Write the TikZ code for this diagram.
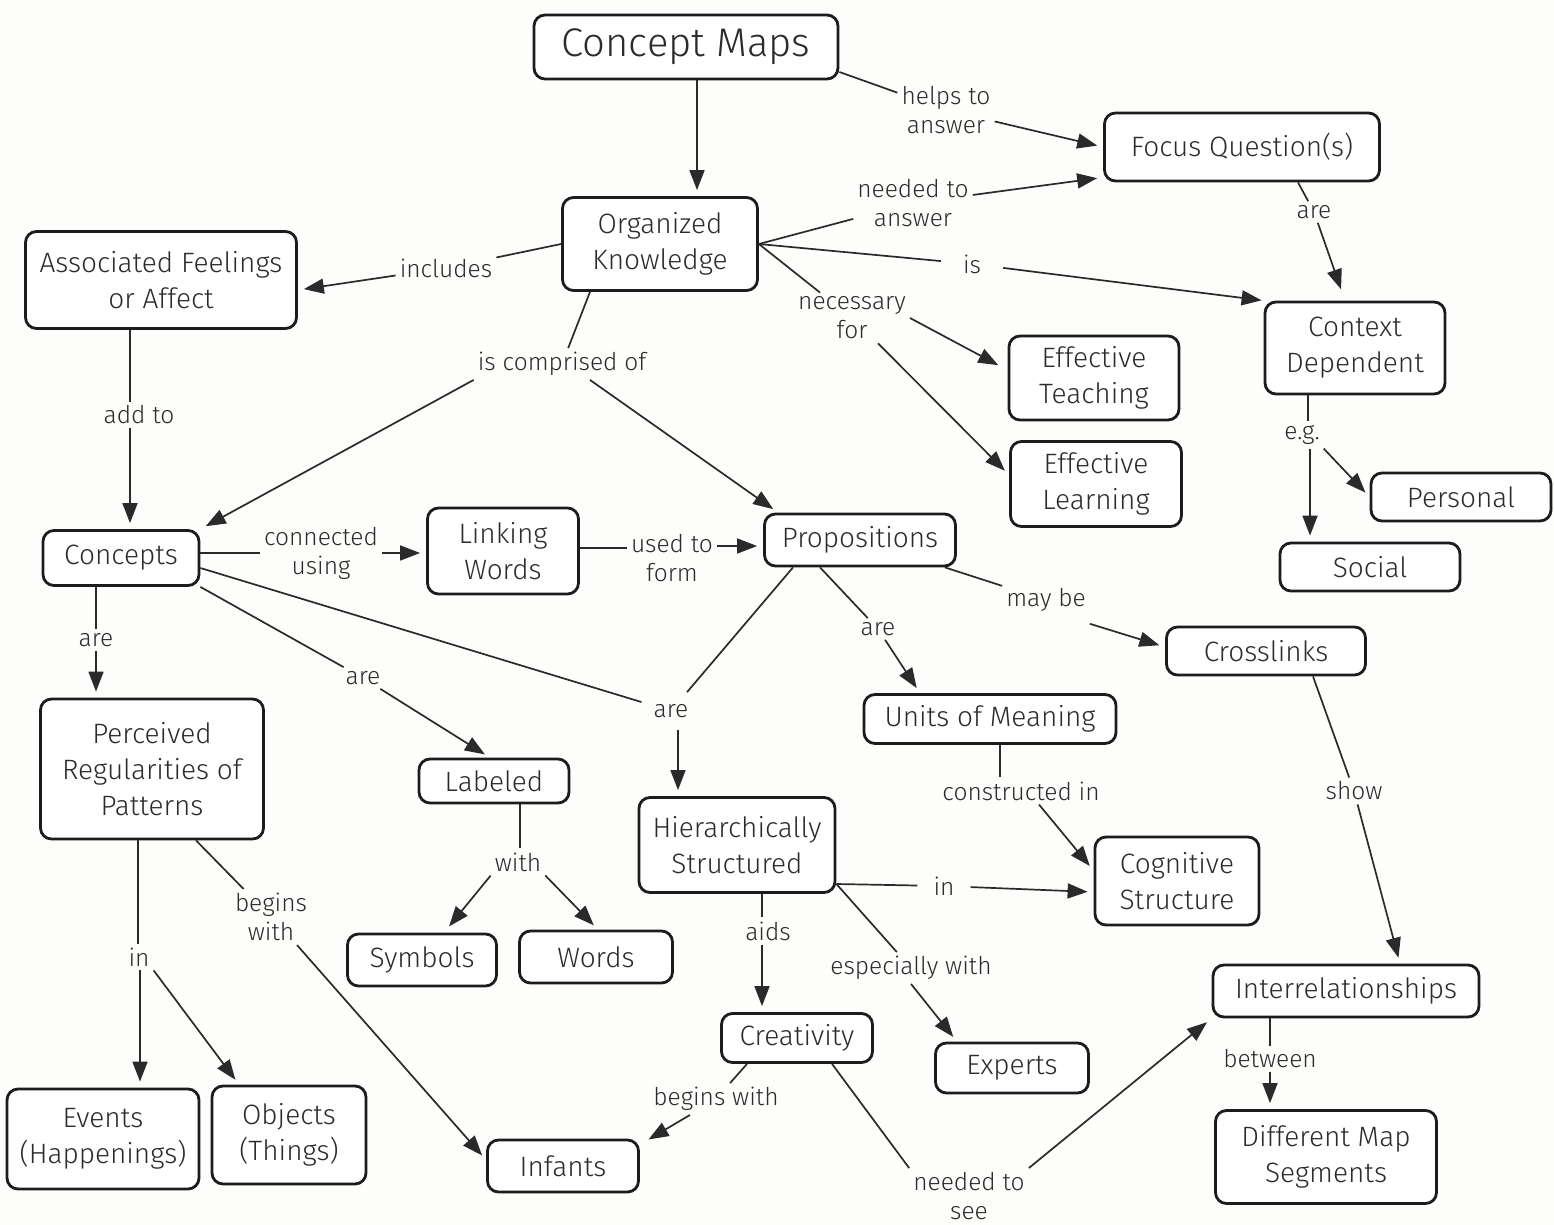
\documentclass[tikz,border=0pt]{standalone}
\usepackage{fontspec}
\setmainfont{Fira Sans Light}
\usetikzlibrary{arrows.meta}
\definecolor{boxline}{HTML}{1C1C1C}
\definecolor{wire}{HTML}{2A2A2A}
\definecolor{ink}{HTML}{2B2B2B}
\definecolor{paper}{HTML}{FDFDFB}
\begin{document}
\begin{tikzpicture}[x=1pt,y=-1pt,
  concept/.style={draw=boxline, line width=2.8pt, rounded corners=11pt, fill=white,
    align=center, inner sep=0pt, text=ink, font=\fontsize{28}{36}\selectfont},
  link/.style={align=center, inner sep=4pt, text=ink, font=\fontsize{24.5}{29}\selectfont},
  conn/.style={draw=wire, line width=1.7pt},
  arr/.style={conn, -{Triangle[length=20pt,width=15pt]}, shorten >=6pt},
]
\fill[paper] (0,0) rectangle (1554,1225);
\useasboundingbox (0,0) rectangle (1554,1225);

% ---------- concepts ----------
\node[concept, minimum width=304, minimum height=64, font=\fontsize{40}{48}\selectfont] (cm) at (686,47) {Concept Maps};
\node[concept, minimum width=275, minimum height=68] (fq) at (1242,147) {Focus Question(s)};
\node[concept, minimum width=195, minimum height=93] (ok) at (660,244) {Organized\\Knowledge};
\node[concept, minimum width=271, minimum height=97] (af) at (161,280) {Associated Feelings\\or Affect};
\node[concept, minimum width=180, minimum height=92] (ctx) at (1355,348) {Context\\Dependent};
\node[concept, minimum width=170, minimum height=84] (et) at (1094,378) {Effective\\Teaching};
\node[concept, minimum width=171, minimum height=85] (el) at (1096,484) {Effective\\Learning};
\node[concept, minimum width=180, minimum height=48] (pers) at (1461,497) {Personal};
\node[concept, minimum width=180, minimum height=48] (soc) at (1370,567) {Social};
\node[concept, minimum width=156, minimum height=55] (con) at (121,558) {Concepts};
\node[concept, minimum width=151, minimum height=86] (lw) at (503,551) {Linking\\Words};
\node[concept, minimum width=191, minimum height=52] (prop) at (860,540) {Propositions};
\node[concept, minimum width=199, minimum height=48] (cross) at (1266,651) {Crosslinks};
\node[concept, minimum width=223, minimum height=140] (perc) at (152,769) {Perceived\\Regularities of\\Patterns};
\node[concept, minimum width=150, minimum height=44] (lab) at (494,781) {Labeled};
\node[concept, minimum width=252, minimum height=49] (um) at (990,719) {Units of Meaning};
\node[concept, minimum width=196, minimum height=95] (hier) at (737,845) {Hierarchically\\Structured};
\node[concept, minimum width=164, minimum height=88] (cog) at (1177,881) {Cognitive\\Structure};
\node[concept, minimum width=149, minimum height=52] (sym) at (422,960) {Symbols};
\node[concept, minimum width=153, minimum height=52] (wor) at (596,957) {Words};
\node[concept, minimum width=266, minimum height=52] (inter) at (1346,991) {Interrelationships};
\node[concept, minimum width=151, minimum height=49] (cre) at (797,1038) {Creativity};
\node[concept, minimum width=153, minimum height=50] (exp) at (1012,1068) {Experts};
\node[concept, minimum width=192, minimum height=100] (ev) at (103,1139) {Events\\(Happenings)};
\node[concept, minimum width=154, minimum height=98] (obj) at (289,1135) {Objects\\(Things)};
\node[concept, minimum width=151, minimum height=52] (inf) at (563,1166) {Infants};
\node[concept, minimum width=221, minimum height=93] (dms) at (1326,1157) {Different Map\\Segments};

% ---------- linking phrases ----------
\node[link] (lhelp) at (946,110) {helps to\\answer};
\node[link] (lneed) at (913,203) {needed to\\answer};
\node[link, inner xsep=22pt] (lis) at (972,264) {is};
\node[link] (lnec) at (852,318) {necessary\\for};
\node[link] (linc) at (446,268) {includes};
\node[link] (lcomp) at (562,364) {is comprised of};
\node[link] (ladd) at (139,415) {add to};
\node[link] (lconn) at (321,553) {connected\\using};
\node[link] (lused) at (672,558) {used to\\form};
\node[link] (lareA) at (96,640) {are};
\node[link] (lareB) at (363,678) {are};
\node[link, inner sep=12pt] (lareC) at (671,711) {are};
\node[link] (lareD) at (878,629) {are};
\node[link] (lmay) at (1046,600) {may be};
\node[link] (lareE) at (1314,212) {are};
\node[link] (leg) at (1302,435) {e.g.};
\node[link] (lcons) at (1021,791) {constructed in};
\node[link] (lshow) at (1354,791) {show};
\node[link] (lwith) at (518,862) {with};
\node[link] (linA) at (139,957) {in};
\node[link] (lbegA) at (271,917) {begins\\with};
\node[link, inner xsep=16pt] (linB) at (944,886) {in};
\node[link] (laids) at (768,931) {aids};
\node[link] (lesp) at (911,968) {especially with};
\node[link] (lbegB) at (716,1099) {begins with};
\node[link] (lsee) at (969,1196) {needed to\\see};
\node[link] (lbtw) at (1270,1059) {between};

% columns for the vertical connectors
\coordinate (x697) at (697,0);
\coordinate (x130) at (130,0);
\coordinate (x96) at (96,0);
\coordinate (x678) at (678,0);
\coordinate (x1308) at (1308,0);
\coordinate (x1310) at (1310,0);
\coordinate (x520) at (520,0);
\coordinate (x138) at (138,0);
\coordinate (x140) at (140,0);
\coordinate (x762) at (762,0);
\coordinate (x1270) at (1270,0);
\coordinate (x1000) at (1000,0);

% ---------- connectors ----------
\draw[arr] (cm.south -| x697) -- (ok.north -| x697);

\draw[conn] ([yshift=-25pt]cm.east) -- (lhelp);
\draw[arr] (lhelp) -- (fq.west);

\draw[conn] (ok.east) -- (lneed);
\draw[arr] (lneed) -- ([yshift=5pt]fq.south west);

\draw[conn] (ok.east) -- (lis);
\draw[arr, shorten >=2pt] (lis) -- (ctx.north west);

\draw[conn] (ok.east) -- (lnec);
\draw[arr] (lnec.east) -- ([xshift=-4pt,yshift=10pt]et.west);
\draw[arr] ([xshift=26pt]lnec.south) -- ([yshift=9pt]el.west);

\draw[conn] (ok.west) -- (linc);
\draw[arr] (linc) -- ([yshift=-10pt]af.east);

\draw[conn] ([xshift=-70pt]ok.south) -- (lcomp);
\draw[arr] (lcomp.south west) -- (con.north east);
\draw[arr] ([xshift=28pt]lcomp.south) -- ([xshift=15pt]prop.north west);

\draw[conn] (af.south -| x130) -- (ladd.north -| x130);
\draw[arr] (ladd.south -| x130) -- (con.north -| x130);

\draw[conn] (con.east |- lconn) -- (lconn);
\draw[arr] (lconn) -- (lw.west |- lconn);

\draw[conn] ([yshift=3pt]lw.east) -- ([yshift=10pt]lused.west);
\draw[arr] ([yshift=12pt]lused.east) -- ([yshift=-6pt]prop.west);

\draw[conn] (con.south -| x96) -- (lareA.north -| x96);
\draw[arr] (lareA.south -| x96) -- (perc.north -| x96);

\draw[conn] (con.south east) -- (lareB);
\draw[arr] (lareB) -- ([xshift=-4pt]lab.north);

\draw[conn] ([yshift=-10pt]con.east) -- (lareC);
\draw[conn] ([xshift=-67pt]prop.south) -- (lareC);
\draw[arr] (lareC.south -| x678) -- (hier.north -| x678);

\draw[conn] ([xshift=-40pt]prop.south) -- (lareD);
\draw[arr] (lareD) -- ([xshift=-70pt]um.north);

\draw[conn] ([xshift=-12pt]prop.south east) -- (lmay);
\draw[arr] ([yshift=-8pt]lmay.south east) -- ([yshift=4pt]cross.west);

\draw[conn] ([xshift=56pt]fq.south) -- (lareE);
\draw[arr, shorten >=12pt] (lareE) -- ([xshift=-10pt]ctx.north);

\draw[conn] (ctx.south -| x1308) -- (leg.north -| x1308);
\draw[arr] (leg.south -| x1310) -- (soc.north -| x1310);
\draw[arr] (leg.south east) -- (pers.west);

\draw[conn] (um.south -| x1000) -- (lcons.north -| x1000);
\draw[arr] ([xshift=18pt]lcons.south) -- ([yshift=-35pt]cog.north west);

\draw[conn] ([xshift=47pt]cross.south) -- (lshow);
\draw[arr] (lshow) -- ([xshift=54pt]inter.north);

\draw[conn] (lab.south -| x520) -- (lwith.north -| x520);
\draw[arr, shorten >=8pt] (lwith.south west) -- ([xshift=22pt]sym.north);
\draw[arr] (lwith.south east) -- ([xshift=2pt]wor.north);

\draw[conn] (perc.south -| x138) -- (linA.north -| x138);
\draw[arr] (linA.south -| x140) -- (ev.north -| x140);
\draw[arr] (linA.south east) -- ([xshift=-50pt]obj.north);

\draw[conn] ([xshift=44pt]perc.south) -- (lbegA);
\draw[arr] ([xshift=26pt]lbegA.south) -- ([yshift=6pt]inf.west);

\draw[conn] ([yshift=-39pt]hier.east) -- (linB);
\draw[arr] (linB) -- ([yshift=-11pt]cog.west);

\draw[conn] (hier.south -| x762) -- (laids.north -| x762);
\draw[arr] (laids.south -| x762) -- (cre.north -| x762);

\draw[conn] ([yshift=-39pt]hier.east) -- (lesp);
\draw[arr] (lesp.south) -- ([xshift=-55pt]exp.north);

\draw[conn] ([xshift=-50pt]cre.south) -- (lbegB);
\draw[arr, shorten >=10pt] ([xshift=-26pt]lbegB.south) -- ([yshift=-6pt]inf.north east);

\draw[conn] ([xshift=35pt]cre.south) -- (lsee.north west);
\draw[arr] (lsee.north east) -- (inter.south west);

\draw[conn] (inter.south -| x1270) -- (lbtw.north -| x1270);
\draw[arr] (lbtw.south -| x1270) -- (dms.north -| x1270);
\end{tikzpicture}
\end{document}
